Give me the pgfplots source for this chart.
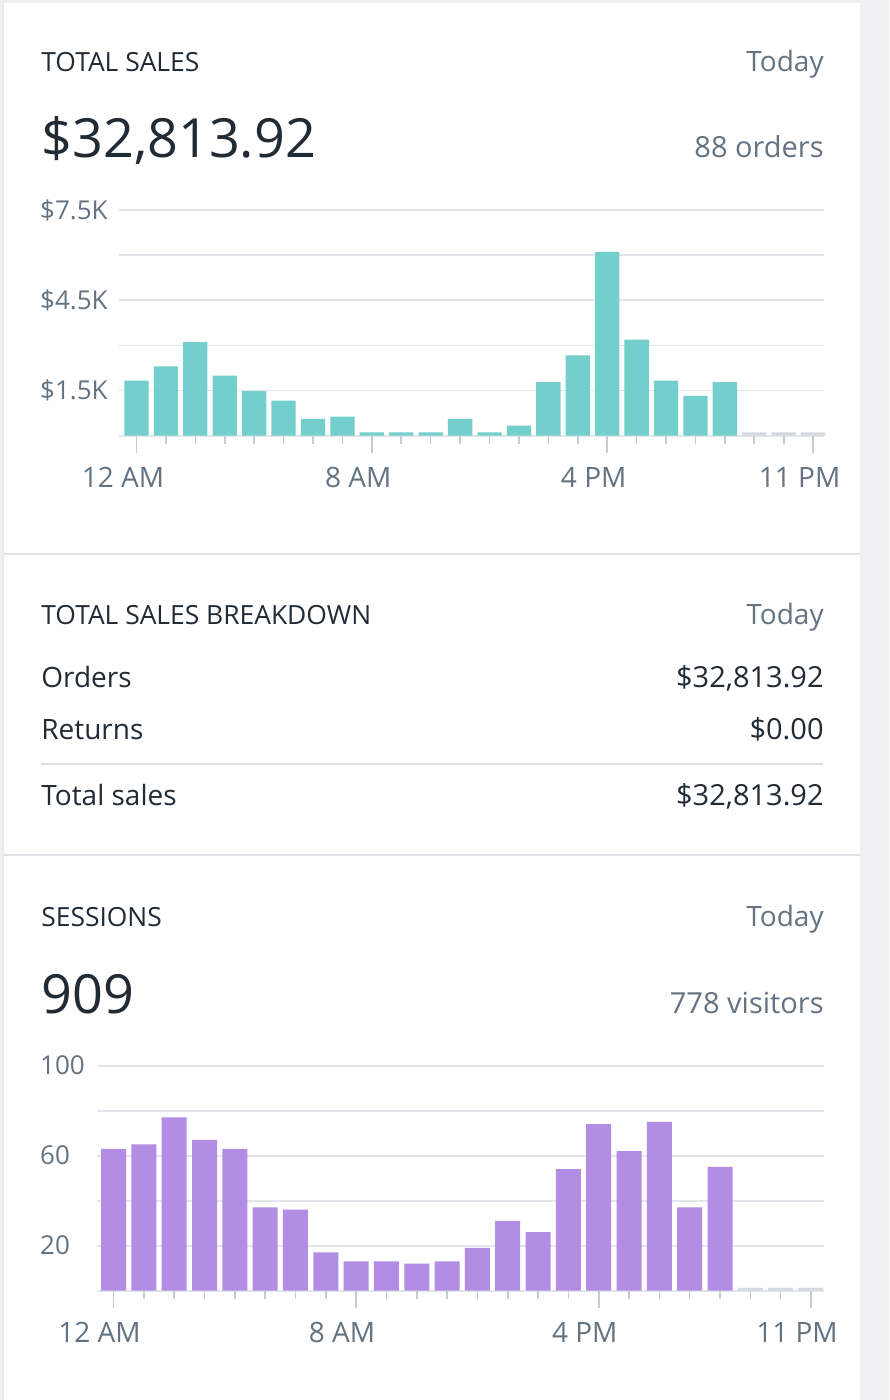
\documentclass[border=0pt]{standalone}
\usepackage{pgfplots}
\pgfplotsset{compat=1.18}
\usepackage{pgfplotstable}
\usepackage{fontspec}
\setmainfont{Open Sans}

\definecolor{ink}{HTML}{212B36}
\definecolor{muted}{HTML}{637381}
\definecolor{rulec}{HTML}{DFE3E8}
\definecolor{gridc}{HTML}{E3E6EA}
\definecolor{tickc}{HTML}{C4CDD5}
\definecolor{salesteal}{HTML}{72CFCB}
\definecolor{sesspurple}{HTML}{B28DE3}
\definecolor{pagebg}{HTML}{F0F0F2}
\definecolor{emptybar}{HTML}{D5DAE0}

% hourly sales (USD), hours 0..20
\pgfplotstableread{
hour sales
0  1833
1  2300
2  3110
3  2000
4  1478
5  1167
6  556
7  633
8  110
9  110
10 110
11 556
12 110
13 333
14 1778
15 2667
16 6111
17 3190
18 1833
19 1322
20 1778
}\salesdata

% hours still to come
\pgfplotstableread{
hour sales
21 110
22 110
23 110
}\salesempty

% hourly sessions, hours 0..20
\pgfplotstableread{
hour sessions
0  63
1  65
2  77
3  67
4  63
5  37
6  36
7  17
8  13
9  13
10 12
11 13
12 19
13 31
14 26
15 54
16 74
17 62
18 75
19 37
20 55
}\sessdata

\pgfplotstableread{
hour sessions
21 1.3
22 1.3
23 1.3
}\sessempty

\newcommand{\fs}[1]{\fontsize{#1}{#1}\selectfont}
% screen position: x from the left, y from the top (in px)
\newcommand{\px}[2]{(#1,{1400-#2})}

\pgfplotsset{
  hourly/.style={
    scale only axis, clip=false,
    axis line style={draw=none},
    ymajorgrids, grid style={gridc, line width=0.85pt},
    ytick style={draw=none},
    xtick pos=bottom, ytick pos=left,
    xtick={0,8,16,23}, xticklabels={12 AM,8 AM,4 PM,11 PM},
    minor xtick={1,2,3,4,5,6,7,9,10,11,12,13,14,15,17,18,19,20,21,22},
    tick align=outside, major tick length=8.6pt, minor tick length=4.2pt,
    xtick style={tickc, line width=0.8pt},
    minor tick style={tickc, line width=0.8pt},
    xticklabel style={font=\fs{14pt}, text=muted, inner sep=0pt, yshift=-7pt},
    yticklabel style={font=\fs{13pt}, text=muted, inner sep=0pt, anchor=west},
  },
}

\begin{document}
\begin{tikzpicture}[x=0.5pt, y=0.5pt]
  % page, card and dividers
  \fill[pagebg] \px{0}{0} rectangle \px{889}{1400};
  \fill[white] \px{4}{3} rectangle \px{860}{1400};
  \fill[rulec!70] \px{2}{0} rectangle \px{4}{1400};
  \fill[rulec] \px{4}{553.5} rectangle \px{860}{555.5};
  \fill[rulec] \px{4}{854.5} rectangle \px{860}{856.5};
  \fill[rulec] \px{41}{763} rectangle \px{823}{765};

  % total sales header
  \node[anchor=base west, inner sep=0, text=ink, font=\fs{13.2pt}] at \px{41}{72} {TOTAL SALES};
  \node[anchor=base east, inner sep=0, text=muted, font=\fs{14pt}] at \px{824}{72} {Today};
  \node[anchor=base west, inner sep=0, text=ink, font=\fs{27pt}] at \px{41}{158} {\$32,813.92};
  \node[anchor=base east, inner sep=0, text=muted, font=\fs{14.5pt}] at \px{824}{158} {88 orders};

  % sales per hour; baseline at 435.7 px from the top
  \begin{axis}[hourly,
      at={(59.5pt,482.15pt)}, anchor=south west,
      width=352.5pt, height=112.85pt,
      xmin=-0.595, xmax=23.37, ymin=0, ymax=7500,
      ytick={0,1500,...,7500}, yticklabels={,\$1.5K,,\$4.5K,,\$7.5K},
      yticklabel style={xshift=-31pt},
      xticklabel style={xshift=-6.75pt},
    ]
    \addplot[ybar, bar width=12.15pt, fill=salesteal, draw=none] table[x=hour, y=sales] {\salesdata};
    \addplot[ybar, bar width=12.15pt, fill=emptybar, draw=none] table[x=hour, y=sales] {\salesempty};
  \end{axis}

  % breakdown
  \node[anchor=base west, inner sep=0, text=ink, font=\fs{13.2pt}] at \px{41}{625} {TOTAL SALES BREAKDOWN};
  \node[anchor=base east, inner sep=0, text=muted, font=\fs{14pt}] at \px{824}{625} {Today};
  \node[anchor=base west, inner sep=0, text=ink, font=\fs{14pt}] at \px{41}{688} {Orders};
  \node[anchor=base east, inner sep=0, text=ink, font=\fs{14.5pt}] at \px{824}{688} {\$32,813.92};
  \node[anchor=base west, inner sep=0, text=ink, font=\fs{14pt}] at \px{41}{740} {Returns};
  \node[anchor=base east, inner sep=0, text=ink, font=\fs{14.5pt}] at \px{824}{740} {\$0.00};
  \node[anchor=base west, inner sep=0, text=ink, font=\fs{14pt}] at \px{41}{806} {Total sales};
  \node[anchor=base east, inner sep=0, text=ink, font=\fs{14.5pt}] at \px{824}{806} {\$32,813.92};

  % sessions header
  \node[anchor=base west, inner sep=0, text=ink, font=\fs{13.2pt}] at \px{41}{927} {SESSIONS};
  \node[anchor=base east, inner sep=0, text=muted, font=\fs{14pt}] at \px{824}{927} {Today};
  \node[anchor=base west, inner sep=0, text=ink, font=\fs{27pt}] at \px{41}{1014} {909};
  \node[anchor=base east, inner sep=0, text=muted, font=\fs{14.5pt}] at \px{824}{1014} {778 visitors};

  % sessions per hour; baseline at 1290.7 px from the top
  \begin{axis}[hourly,
      at={(48.35pt,54.65pt)}, anchor=south west,
      width=363.65pt, height=112.5pt,
      xmin=-0.555, xmax=23.43, ymin=0, ymax=100,
      ytick={0,20,...,100}, yticklabels={,20,,60,,100},
      yticklabel style={xshift=-19.85pt},
      xticklabel style={xshift=-7pt},
    ]
    \addplot[ybar, bar width=12.5pt, fill=sesspurple, draw=none] table[x=hour, y=sessions] {\sessdata};
    \addplot[ybar, bar width=12.5pt, fill=emptybar, draw=none] table[x=hour, y=sessions] {\sessempty};
  \end{axis}
\end{tikzpicture}
\end{document}
